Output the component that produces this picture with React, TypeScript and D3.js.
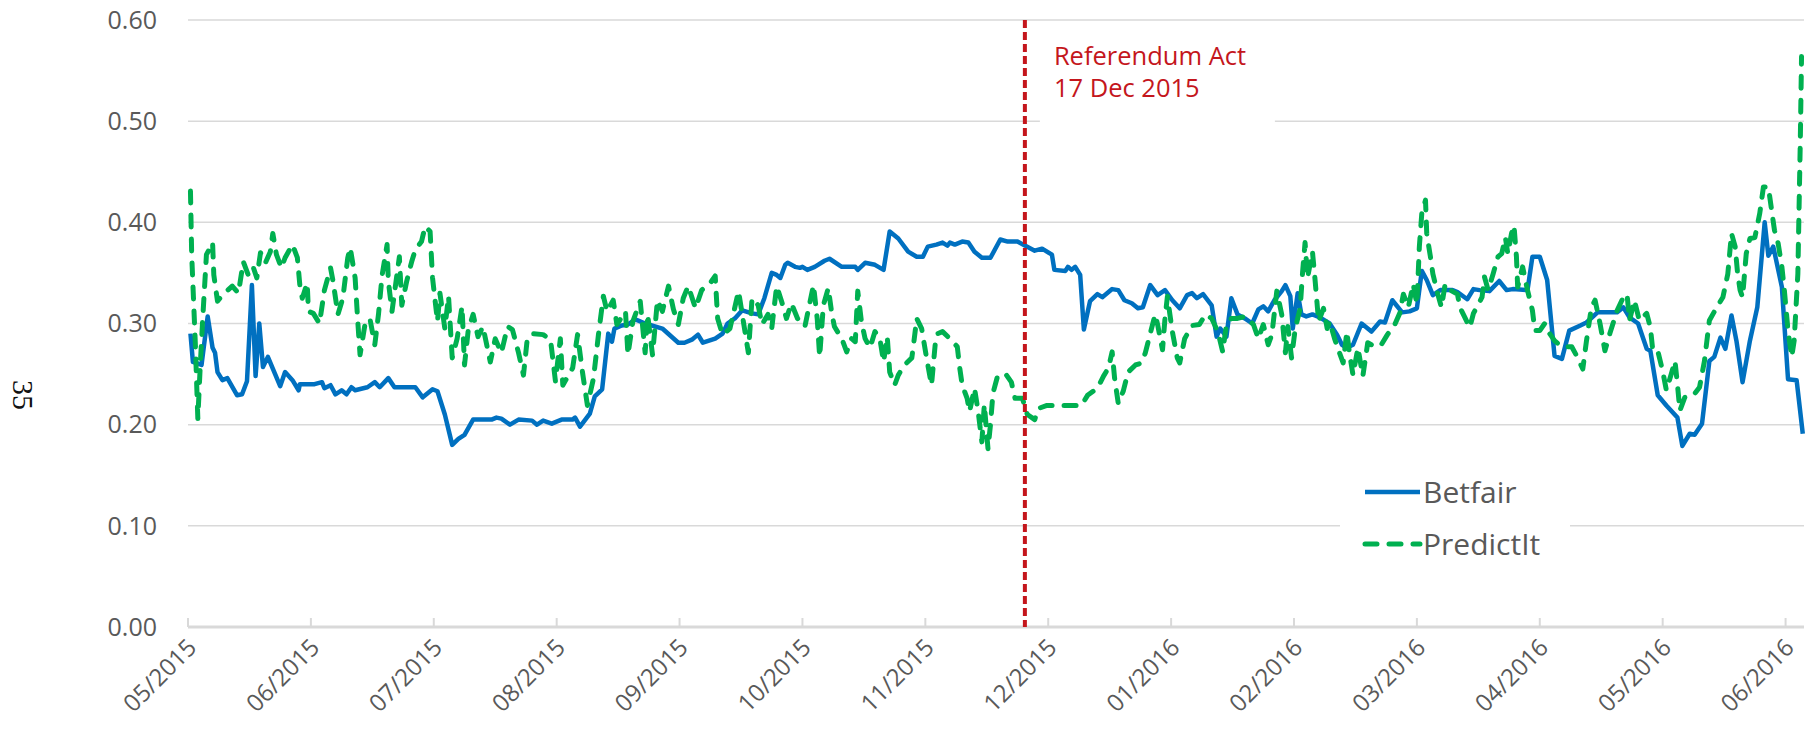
import * as d3 from "d3";
import { useEffect, useRef } from "react";

// x positions are in months counted from 05/2015 (0) to 06/2016 (13)
const monthLabels = [
  "05/2015", "06/2015", "07/2015", "08/2015", "09/2015", "10/2015", "11/2015",
  "12/2015", "01/2016", "02/2016", "03/2016", "04/2016", "05/2016", "06/2016",
];
const yTicks = [0, 0.1, 0.2, 0.3, 0.4, 0.5, 0.6];
const referendumAt = 6.81;
const referendumLabel = ["Referendum Act", "17 Dec 2015"];
const seriesNames = ["Betfair", "PredictIt"];

const betfair: [number, number][] = [
  [0.02, 0.29], [0.04, 0.262], [0.11, 0.259], [0.16, 0.307], [0.2, 0.276], [0.22, 0.271],
  [0.24, 0.252], [0.28, 0.244], [0.32, 0.246], [0.4, 0.229], [0.44, 0.23], [0.48, 0.243],
  [0.52, 0.338], [0.55, 0.248], [0.58, 0.3], [0.61, 0.257], [0.65, 0.267], [0.75, 0.238],
  [0.79, 0.252], [0.85, 0.244], [0.9, 0.234], [0.91, 0.24], [1.03, 0.24], [1.09, 0.242],
  [1.11, 0.236], [1.16, 0.239], [1.2, 0.23], [1.25, 0.234], [1.29, 0.23], [1.33, 0.237],
  [1.36, 0.234], [1.46, 0.237], [1.52, 0.242], [1.56, 0.237], [1.63, 0.246], [1.68, 0.237],
  [1.85, 0.237], [1.91, 0.227], [1.99, 0.235], [2.03, 0.233], [2.09, 0.21], [2.15, 0.18],
  [2.2, 0.186], [2.25, 0.19], [2.32, 0.205], [2.47, 0.205], [2.51, 0.207], [2.55, 0.206],
  [2.62, 0.2], [2.69, 0.205], [2.8, 0.204], [2.84, 0.2], [2.89, 0.204], [2.96, 0.201],
  [3.04, 0.205], [3.13, 0.205], [3.15, 0.207], [3.19, 0.198], [3.27, 0.211], [3.31, 0.228],
  [3.37, 0.235], [3.42, 0.29], [3.45, 0.282], [3.47, 0.295], [3.53, 0.298], [3.58, 0.299],
  [3.64, 0.304], [3.72, 0.3], [3.86, 0.295], [3.99, 0.281], [4.04, 0.281], [4.1, 0.284],
  [4.15, 0.289], [4.19, 0.281], [4.29, 0.285], [4.35, 0.29], [4.39, 0.3], [4.45, 0.305],
  [4.51, 0.313], [4.59, 0.31], [4.64, 0.309], [4.69, 0.325], [4.75, 0.35], [4.79, 0.348],
  [4.82, 0.345], [4.86, 0.358], [4.88, 0.36], [4.94, 0.356], [4.98, 0.355], [5.0, 0.356],
  [5.04, 0.353], [5.1, 0.356], [5.18, 0.362], [5.22, 0.364], [5.32, 0.356], [5.43, 0.356],
  [5.45, 0.353], [5.51, 0.36], [5.59, 0.358], [5.66, 0.353], [5.71, 0.391], [5.78, 0.384],
  [5.86, 0.371], [5.93, 0.366], [5.98, 0.366], [6.02, 0.376], [6.09, 0.378], [6.14, 0.38],
  [6.18, 0.377], [6.2, 0.38], [6.24, 0.378], [6.3, 0.381], [6.35, 0.38], [6.4, 0.371],
  [6.46, 0.365], [6.53, 0.365], [6.61, 0.383], [6.67, 0.381], [6.73, 0.381], [6.75, 0.381],
  [6.81, 0.377], [6.89, 0.372], [6.95, 0.374], [7.03, 0.368], [7.05, 0.353], [7.14, 0.352],
  [7.16, 0.356], [7.19, 0.353], [7.22, 0.356], [7.26, 0.348], [7.29, 0.294], [7.34, 0.322],
  [7.4, 0.329], [7.44, 0.326], [7.52, 0.334], [7.57, 0.333], [7.62, 0.323], [7.68, 0.32],
  [7.73, 0.315], [7.77, 0.316], [7.83, 0.338], [7.89, 0.328], [7.95, 0.333], [8.01, 0.323],
  [8.07, 0.315], [8.13, 0.328], [8.17, 0.33], [8.21, 0.325], [8.26, 0.329], [8.33, 0.318],
  [8.37, 0.287], [8.4, 0.295], [8.45, 0.287], [8.49, 0.325], [8.54, 0.309], [8.6, 0.305],
  [8.66, 0.3], [8.71, 0.314], [8.75, 0.317], [8.79, 0.312], [8.84, 0.323], [8.9, 0.332],
  [8.93, 0.338], [8.97, 0.327], [8.99, 0.295], [9.03, 0.33], [9.06, 0.309], [9.1, 0.307],
  [9.15, 0.309], [9.21, 0.306], [9.29, 0.3], [9.35, 0.289], [9.39, 0.279], [9.43, 0.276],
  [9.48, 0.279], [9.55, 0.3], [9.63, 0.292], [9.7, 0.302], [9.74, 0.301], [9.8, 0.323],
  [9.88, 0.311], [9.94, 0.312], [10.0, 0.315], [10.04, 0.352], [10.08, 0.343], [10.13, 0.328],
  [10.19, 0.333], [10.29, 0.333], [10.33, 0.331], [10.41, 0.324], [10.46, 0.334], [10.51, 0.333],
  [10.59, 0.332], [10.67, 0.342], [10.73, 0.333], [10.78, 0.334], [10.9, 0.333], [10.94, 0.366],
  [11.0, 0.366], [11.06, 0.343], [11.1, 0.293], [11.12, 0.268], [11.18, 0.265], [11.24, 0.293],
  [11.33, 0.298], [11.38, 0.301], [11.47, 0.311], [11.63, 0.311], [11.68, 0.316], [11.73, 0.306],
  [11.8, 0.3], [11.87, 0.275], [11.9, 0.273], [11.96, 0.229], [12.03, 0.219], [12.12, 0.207],
  [12.16, 0.179], [12.22, 0.191], [12.26, 0.19], [12.32, 0.201], [12.38, 0.263], [12.42, 0.267],
  [12.47, 0.286], [12.51, 0.275], [12.56, 0.308], [12.6, 0.283], [12.65, 0.242], [12.71, 0.283],
  [12.77, 0.316], [12.83, 0.4], [12.86, 0.367], [12.9, 0.376], [12.97, 0.336], [13.02, 0.245],
  [13.09, 0.244], [13.14, 0.191],
];

const predictit: [number, number][] = [
  [0.02, 0.431], [0.03, 0.368], [0.06, 0.279], [0.08, 0.206], [0.1, 0.259], [0.12, 0.305],
  [0.15, 0.368], [0.2, 0.38], [0.21, 0.348], [0.24, 0.322], [0.28, 0.328], [0.36, 0.337],
  [0.41, 0.33], [0.45, 0.361], [0.49, 0.348], [0.53, 0.356], [0.56, 0.345], [0.59, 0.37],
  [0.63, 0.36], [0.67, 0.371], [0.69, 0.389], [0.72, 0.368], [0.76, 0.355], [0.79, 0.365],
  [0.85, 0.378], [0.89, 0.365], [0.91, 0.338], [0.93, 0.325], [0.97, 0.34], [0.98, 0.312],
  [1.02, 0.31], [1.07, 0.3], [1.11, 0.333], [1.16, 0.355], [1.18, 0.342], [1.22, 0.309],
  [1.26, 0.325], [1.3, 0.365], [1.32, 0.375], [1.36, 0.345], [1.38, 0.305], [1.4, 0.269],
  [1.44, 0.299], [1.48, 0.305], [1.52, 0.279], [1.55, 0.309], [1.58, 0.348], [1.62, 0.378],
  [1.63, 0.342], [1.66, 0.312], [1.7, 0.348], [1.72, 0.366], [1.74, 0.318], [1.78, 0.342],
  [1.82, 0.361], [1.85, 0.373], [1.9, 0.381], [1.93, 0.396], [1.97, 0.391], [1.99, 0.345],
  [2.03, 0.302], [2.05, 0.33], [2.09, 0.295], [2.12, 0.327], [2.15, 0.266], [2.19, 0.285],
  [2.23, 0.317], [2.25, 0.259], [2.28, 0.293], [2.32, 0.309], [2.36, 0.287], [2.4, 0.297],
  [2.46, 0.262], [2.5, 0.285], [2.55, 0.271], [2.6, 0.297], [2.64, 0.294], [2.69, 0.271],
  [2.73, 0.249], [2.76, 0.284], [2.8, 0.29], [2.89, 0.289], [2.95, 0.284], [2.99, 0.243],
  [3.03, 0.285], [3.05, 0.239], [3.13, 0.256], [3.17, 0.289], [3.21, 0.252], [3.25, 0.219],
  [3.3, 0.246], [3.34, 0.289], [3.38, 0.327], [3.41, 0.312], [3.46, 0.323], [3.49, 0.299],
  [3.56, 0.312], [3.58, 0.269], [3.62, 0.302], [3.68, 0.322], [3.72, 0.271], [3.74, 0.309],
  [3.78, 0.269], [3.82, 0.323], [3.86, 0.312], [3.91, 0.337], [3.95, 0.314], [3.99, 0.299],
  [4.03, 0.325], [4.07, 0.337], [4.13, 0.315], [4.18, 0.333], [4.25, 0.34], [4.29, 0.347],
  [4.31, 0.305], [4.35, 0.289], [4.41, 0.295], [4.48, 0.332], [4.51, 0.309], [4.56, 0.271],
  [4.59, 0.325], [4.64, 0.318], [4.67, 0.299], [4.72, 0.309], [4.75, 0.295], [4.79, 0.337],
  [4.83, 0.322], [4.87, 0.305], [4.91, 0.32], [4.96, 0.305], [5.02, 0.297], [5.09, 0.338],
  [5.12, 0.305], [5.14, 0.267], [5.17, 0.318], [5.21, 0.335], [5.24, 0.309], [5.26, 0.297],
  [5.32, 0.285], [5.36, 0.272], [5.4, 0.285], [5.43, 0.282], [5.45, 0.332], [5.48, 0.302],
  [5.51, 0.285], [5.55, 0.276], [5.59, 0.292], [5.63, 0.285], [5.66, 0.262], [5.69, 0.287],
  [5.71, 0.252], [5.75, 0.239], [5.78, 0.249], [5.83, 0.259], [5.89, 0.266], [5.91, 0.285],
  [5.93, 0.305], [5.97, 0.295], [6.01, 0.266], [6.05, 0.239], [6.08, 0.279], [6.1, 0.29],
  [6.14, 0.292], [6.2, 0.285], [6.26, 0.277], [6.28, 0.256], [6.3, 0.239], [6.34, 0.226],
  [6.36, 0.213], [6.4, 0.236], [6.43, 0.213], [6.46, 0.183], [6.48, 0.22], [6.51, 0.176],
  [6.53, 0.2], [6.55, 0.231], [6.59, 0.249], [6.66, 0.249], [6.7, 0.242], [6.73, 0.226],
  [6.79, 0.226], [6.83, 0.21], [6.89, 0.205], [6.92, 0.216], [6.99, 0.219], [7.08, 0.219],
  [7.19, 0.219], [7.27, 0.219], [7.32, 0.229], [7.4, 0.236], [7.45, 0.248], [7.49, 0.256],
  [7.52, 0.272], [7.54, 0.246], [7.57, 0.221], [7.61, 0.233], [7.65, 0.252], [7.71, 0.259],
  [7.76, 0.261], [7.79, 0.271], [7.83, 0.29], [7.87, 0.309], [7.89, 0.299], [7.93, 0.274],
  [7.95, 0.305], [7.97, 0.327], [7.99, 0.309], [8.01, 0.292], [8.05, 0.266], [8.07, 0.261],
  [8.11, 0.285], [8.17, 0.298], [8.23, 0.299], [8.28, 0.309], [8.33, 0.305], [8.38, 0.292],
  [8.42, 0.272], [8.45, 0.299], [8.49, 0.305], [8.54, 0.305], [8.6, 0.307], [8.67, 0.299],
  [8.71, 0.285], [8.75, 0.299], [8.79, 0.279], [8.82, 0.289], [8.86, 0.332], [8.9, 0.309],
  [8.93, 0.271], [8.95, 0.297], [8.98, 0.266], [9.01, 0.295], [9.05, 0.315], [9.07, 0.351],
  [9.09, 0.38], [9.11, 0.345], [9.15, 0.371], [9.17, 0.345], [9.2, 0.302], [9.24, 0.315],
  [9.27, 0.295], [9.29, 0.302], [9.33, 0.285], [9.37, 0.271], [9.4, 0.261], [9.43, 0.292],
  [9.45, 0.272], [9.48, 0.249], [9.52, 0.276], [9.56, 0.248], [9.6, 0.281], [9.66, 0.277],
  [9.71, 0.279], [9.76, 0.289], [9.82, 0.299], [9.86, 0.31], [9.89, 0.329], [9.93, 0.316],
  [9.97, 0.339], [10.0, 0.319], [10.02, 0.376], [10.04, 0.409], [10.07, 0.422], [10.08, 0.389],
  [10.11, 0.366], [10.13, 0.349], [10.17, 0.329], [10.2, 0.316], [10.23, 0.339], [10.27, 0.333],
  [10.33, 0.329], [10.35, 0.316], [10.39, 0.306], [10.43, 0.296], [10.46, 0.31], [10.5, 0.319],
  [10.53, 0.326], [10.55, 0.346], [10.58, 0.333], [10.62, 0.349], [10.66, 0.366], [10.69, 0.369],
  [10.72, 0.385], [10.74, 0.369], [10.77, 0.389], [10.79, 0.397], [10.81, 0.366], [10.82, 0.336],
  [10.86, 0.356], [10.9, 0.333], [10.94, 0.313], [10.96, 0.293], [11.0, 0.293], [11.04, 0.3],
  [11.08, 0.29], [11.12, 0.283], [11.18, 0.277], [11.26, 0.277], [11.3, 0.268], [11.35, 0.255],
  [11.38, 0.283], [11.42, 0.316], [11.45, 0.323], [11.49, 0.3], [11.53, 0.273], [11.57, 0.29],
  [11.63, 0.313], [11.68, 0.326], [11.71, 0.329], [11.73, 0.303], [11.77, 0.323], [11.81, 0.303],
  [11.87, 0.31], [11.9, 0.296], [11.92, 0.273], [11.96, 0.273], [12.0, 0.253], [12.03, 0.234],
  [12.07, 0.25], [12.1, 0.263], [12.12, 0.24], [12.14, 0.214], [12.18, 0.227], [12.25, 0.229],
  [12.3, 0.237], [12.34, 0.263], [12.38, 0.303], [12.44, 0.316], [12.49, 0.326], [12.53, 0.349],
  [12.56, 0.389], [12.59, 0.376], [12.61, 0.349], [12.63, 0.333], [12.65, 0.326], [12.68, 0.369],
  [12.71, 0.384], [12.75, 0.385], [12.79, 0.409], [12.82, 0.435], [12.86, 0.435], [12.89, 0.409],
  [12.91, 0.392], [12.94, 0.379], [12.97, 0.356], [12.99, 0.333], [13.02, 0.293], [13.05, 0.267],
  [13.07, 0.283], [13.1, 0.349], [13.12, 0.481], [13.13, 0.564],
];

const width = 1805;
const height = 731;
const margin = { top: 20, right: 1, bottom: 104, left: 188 };
const font = "'Open Sans', 'Noto Sans', sans-serif";
const grey = "#d9d9d9";
const textGrey = "#595959";
const blue = "#0070c0";
const green = "#00b050";
const red = "#c4161c";

const App = () => {
  const ref = useRef<SVGSVGElement>(null);

  useEffect(() => {
    document.body.style.margin = "0";
    const svg = d3.select(ref.current);
    svg.selectAll("*").remove();

    const x = d3.scaleLinear().domain([0, 13.15]).range([margin.left, width - margin.right]);
    const y = d3.scaleLinear().domain([0, 0.6]).range([height - margin.bottom, margin.top]);

    // gridlines
    svg.append("g")
      .selectAll("line")
      .data(yTicks.filter(d => d > 0))
      .enter()
      .append("line")
      .attr("x1", x(0)).attr("x2", x(13.15))
      .attr("y1", d => y(d)).attr("y2", d => y(d))
      .attr("stroke", grey).attr("stroke-width", 1.5);

    // y labels
    svg.append("g")
      .selectAll("text")
      .data(yTicks)
      .enter()
      .append("text")
      .attr("x", margin.left - 31)
      .attr("y", d => y(d))
      .attr("dy", "0.35em")
      .attr("text-anchor", "end")
      .style("font-family", font).style("font-size", "25px").style("fill", textGrey)
      .text(d => d.toFixed(2));

    // x axis
    const axisY = y(0);
    svg.append("line")
      .attr("x1", x(0)).attr("x2", x(13.15))
      .attr("y1", axisY).attr("y2", axisY)
      .attr("stroke", grey).attr("stroke-width", 3);
    svg.append("g")
      .selectAll("line")
      .data(monthLabels)
      .enter()
      .append("line")
      .attr("x1", (d, i) => x(i)).attr("x2", (d, i) => x(i))
      .attr("y1", axisY - 9).attr("y2", axisY)
      .attr("stroke", grey).attr("stroke-width", 2);
    svg.append("g")
      .selectAll("text")
      .data(monthLabels)
      .enter()
      .append("text")
      .attr("transform", (d, i) => `translate(${x(i) + 10}, ${axisY + 22}) rotate(-45)`)
      .attr("text-anchor", "end")
      .style("font-family", font).style("font-size", "24px").style("fill", textGrey)
      .text(d => d);

    // white boxes behind the note and the legend
    svg.append("rect")
      .attr("x", x(referendumAt) + 15).attr("y", 40)
      .attr("width", 235).attr("height", 90)
      .attr("fill", "white");
    svg.append("rect")
      .attr("x", 1340).attr("y", 470)
      .attr("width", 230).attr("height", 100)
      .attr("fill", "white");

    const line = d3.line<[number, number]>()
      .x(d => x(d[0]))
      .y(d => y(d[1]));

    svg.append("path")
      .attr("d", line(betfair))
      .attr("fill", "none")
      .attr("stroke", blue).attr("stroke-width", 4.5)
      .attr("stroke-linejoin", "round");

    svg.append("path")
      .attr("d", line(predictit))
      .attr("fill", "none")
      .attr("stroke", green).attr("stroke-width", 5)
      .attr("stroke-dasharray", "12 12")
      .attr("stroke-linecap", "round")
      .attr("stroke-linejoin", "round");

    // referendum marker
    svg.append("line")
      .attr("x1", x(referendumAt)).attr("x2", x(referendumAt))
      .attr("y1", y(0.6)).attr("y2", axisY)
      .attr("stroke", red).attr("stroke-width", 4)
      .attr("stroke-dasharray", "8 4");
    svg.append("g")
      .selectAll("text")
      .data(referendumLabel)
      .enter()
      .append("text")
      .attr("x", x(referendumAt) + 29)
      .attr("y", (d, i) => 65 + i * 32)
      .style("font-family", font).style("font-size", "25.5px").style("fill", red)
      .text(d => d);

    // legend
    const legend = svg.append("g").attr("transform", "translate(1365, 492)");
    seriesNames.forEach((name, i) => {
      legend.append("line")
        .attr("x1", 0).attr("x2", 55)
        .attr("y1", i * 52).attr("y2", i * 52)
        .attr("stroke", i === 0 ? blue : green)
        .attr("stroke-width", i === 0 ? 4.5 : 5)
        .attr("stroke-linecap", i === 0 ? "butt" : "round")
        .attr("stroke-dasharray", i === 0 ? null : "12 12");
      legend.append("text")
        .attr("x", 58).attr("y", i * 52)
        .attr("dy", "0.36em")
        .style("font-family", font).style("font-size", "30px").style("fill", textGrey)
        .text(name);
    });

    // page number from the source document
    svg.append("text")
      .attr("transform", "translate(13, 380) rotate(90)")
      .style("font-family", "'Liberation Serif', 'DejaVu Serif', serif")
      .style("font-size", "30px").style("fill", "#111")
      .text("35");
  }, []);

  return <svg ref={ref} width={width} height={height} style={{ display: "block", background: "white" }} />;
};

export default App;
